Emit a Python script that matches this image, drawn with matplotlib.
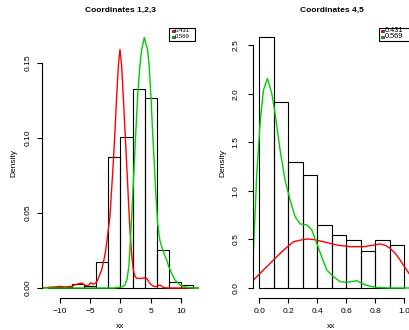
import numpy as np
import matplotlib
matplotlib.use("Agg")
import matplotlib.pyplot as plt
from matplotlib.patches import Rectangle

plt.rcParams['font.family'] = ['Liberation Sans', 'DejaVu Sans']

# ---------------- data ----------------
titles = ["Coordinates 1,2,3", "Coordinates 4,5"]
legend_labels = ["0.431", "0.569"]

# left panel histogram
left_edges = [-12, -10, -8, -6, -4, -2, 0, 2, 4, 6, 8, 10, 12]
left_heights = [0.0007, 0.0005, 0.0029, 0.0011, 0.017, 0.0875, 0.1009,
                0.1325, 0.1264, 0.0253, 0.0038, 0.002]
left_xticks = [-10, -5, 0, 5, 10]
left_yticks = [0.00, 0.05, 0.10, 0.15]
left_ytick_labels = ["0.00", "0.05", "0.10", "0.15"]

left_red_x = [-13.5, -12.1, -11.5, -10.8, -10.0, -9.2, -8.07, -7.24, -6.4, -5.87,
              -5.3, -4.93, -4.5, -4.05, -3.8, -3.11, -2.56, -2.28, -1.74, -1.19,
              -0.9, -0.63, -0.35, -0.08, 0.2, 0.47, 0.75, 1.02, 1.3, 1.57, 1.85,
              2.12, 2.4, 2.67, 3.5, 4.0, 4.33, 4.88, 5.3, 5.7, 6.1, 6.53, 6.8,
              7.07, 7.5, 8.0, 13.5]
left_red_y = [0.0, 0.0003, 0.0006, 0.0007, 0.0011, 0.0007, 0.0011, 0.0025, 0.0033, 0.0018,
              0.0015, 0.0035, 0.0025, 0.0035, 0.005, 0.012, 0.022, 0.0298, 0.0476, 0.083,
              0.105, 0.1276, 0.148, 0.159, 0.148, 0.1276, 0.105, 0.083, 0.06, 0.0387, 0.022,
              0.012, 0.008, 0.0064, 0.0064, 0.0068, 0.0064, 0.003, 0.0015, 0.0009, 0.0012,
              0.002, 0.0012, 0.0004, 0.0001, 0.0, 0.0]

left_green_x = [-13.5, -1.0, 0.3, 0.74, 1.1, 1.4, 1.74, 2.0, 2.29, 2.55, 2.84, 3.2,
                3.5, 3.94, 4.49, 4.75, 5.04, 5.3, 5.59, 5.85, 6.15, 6.5, 6.81, 7.2,
                7.64, 8.0, 8.46, 9.0, 9.83, 10.9, 11.5, 12.0, 13.5]
left_green_y = [0.0, 0.0, 0.0008, 0.002, 0.006, 0.015, 0.0387, 0.06, 0.083, 0.105,
                0.1276, 0.148, 0.1587, 0.167, 0.1587, 0.148, 0.1276, 0.105, 0.083,
                0.062, 0.043, 0.032, 0.0276, 0.023, 0.0187, 0.014, 0.0098, 0.0053,
                0.002, 0.0005, 0.0002, 0.0, 0.0]

# right panel histogram
right_edges = [0.0, 0.1, 0.2, 0.3, 0.4, 0.5, 0.6, 0.7, 0.8, 0.9, 1.0]
right_heights = [2.59, 1.92, 1.296, 1.165, 0.646, 0.546, 0.495, 0.378, 0.495, 0.446]
right_xticks = [0.0, 0.2, 0.4, 0.6, 0.8, 1.0]
right_xtick_labels = ["0.0", "0.2", "0.4", "0.6", "0.8", "1.0"]
right_yticks = [0.0, 0.5, 1.0, 1.5, 2.0, 2.5]
right_ytick_labels = ["0.0", "0.5", "1.0", "1.5", "2.0", "2.5"]

right_red_x = [-0.05, -0.039, 0.03, 0.099, 0.168, 0.237, 0.306, 0.34, 0.375, 0.443,
               0.536, 0.628, 0.72, 0.78, 0.834, 0.87, 0.903, 0.94, 0.972, 1.041, 1.05]
right_red_y = [0.065, 0.082, 0.186, 0.289, 0.39, 0.477, 0.50, 0.505, 0.50, 0.477,
               0.443, 0.426, 0.426, 0.44, 0.454, 0.44, 0.41, 0.355, 0.289, 0.134, 0.115]

right_green_x = [-0.045, -0.039, -0.016, 0.007, 0.03, 0.057, 0.088, 0.11, 0.145, 0.179,
                 0.214, 0.248, 0.283, 0.31, 0.329, 0.363, 0.398, 0.432, 0.467, 0.513,
                 0.559, 0.605, 0.674, 0.731, 0.8, 0.9, 1.05]
right_green_y = [0.3, 0.39, 1.18, 1.70, 2.04, 2.16, 2.0, 1.80, 1.42, 1.11,
                 0.907, 0.735, 0.66, 0.655, 0.65, 0.60, 0.46, 0.32, 0.186, 0.117,
                 0.065, 0.058, 0.075, 0.031, 0.007, 0.0, 0.0]

RED = "#FF0000"
GREEN = "#00CD00"

W, H = 410, 330
fig = plt.figure(figsize=(W / 100, H / 100), dpi=100)


def fx(px):
    return px / W


def fy(py):
    return 1 - py / H


def setup_axes(ax, xbounds, ybounds, ylab_pad):
    for s in ("top", "right"):
        ax.spines[s].set_visible(False)
    ax.spines["left"].set_bounds(*ybounds)
    ax.spines["bottom"].set_bounds(*xbounds)
    for s in ("left", "bottom"):
        ax.spines[s].set_linewidth(0.8)
    ax.tick_params(direction="out", length=3.3, width=0.8, labelsize=6)
    ax.tick_params(axis="x", pad=4.2)
    ax.tick_params(axis="y", pad=ylab_pad)
    for lab in ax.get_yticklabels():
        lab.set_rotation(90)
        lab.set_va("center")


def draw_legend(x0, y0, x1, y1, rows_y, sq_x, txt_x, fs):
    fig.add_artist(Rectangle((fx(x0), fy(y1)), fx(x1) - fx(x0), fy(y0) - fy(y1),
                             transform=fig.transFigure, facecolor="white",
                             edgecolor="black", linewidth=0.8, zorder=5))
    for lab, col, ry in zip(legend_labels, [RED, GREEN], rows_y):
        s = 2.4
        fig.add_artist(Rectangle((fx(sq_x - s / 2), fy(ry + s / 2)), s / W, s / H,
                                 transform=fig.transFigure, facecolor=col,
                                 edgecolor="black", linewidth=0.4, zorder=6))
        fig.text(fx(txt_x), fy(ry), lab, fontsize=fs, va="center", ha="left",
                 zorder=7)


# ---------------- left panel ----------------
ax1 = fig.add_axes([fx(42), fy(298), fx(198.9) - fx(42), fy(27.6) - fy(298)])
ax1.bar(left_edges[:-1], left_heights, width=np.diff(left_edges), align="edge",
        fill=False, edgecolor="black", linewidth=0.8)
ax1.plot(left_red_x, left_red_y, color=RED, linewidth=1.0)
ax1.plot(left_green_x, left_green_y, color=GREEN, linewidth=1.0)
ax1.set_xlim(-12.96, 12.96)
ax1.set_ylim(-0.00667, 0.1736)
ax1.set_xticks(left_xticks)
ax1.set_xticklabels([str(v) if v >= 0 else "\u2212" + str(-v) for v in left_xticks])
ax1.set_yticks(left_yticks)
ax1.set_yticklabels(left_ytick_labels)
setup_axes(ax1, (-10, 10), (0, 0.15), 4.0)

# ---------------- right panel ----------------
ax2 = fig.add_axes([fx(253.3), fy(298), fx(409.9) - fx(253.3), fy(27.6) - fy(298)])
ax2.bar(right_edges[:-1], right_heights, width=np.diff(right_edges), align="edge",
        fill=False, edgecolor="black", linewidth=0.8)
ax2.plot(right_red_x, right_red_y, color=RED, linewidth=1.0)
ax2.plot(right_green_x, right_green_y, color=GREEN, linewidth=1.0)
ax2.set_xlim(-0.04, 1.04)
ax2.set_ylim(-0.103, 2.684)
ax2.set_xticks(right_xticks)
ax2.set_xticklabels(right_xtick_labels)
ax2.set_yticks(right_yticks)
ax2.set_yticklabels(right_ytick_labels)
setup_axes(ax2, (0, 1), (0, 2.5), 6.5)

# titles / labels
fig.text(fx(120.5), fy(10), titles[0], fontsize=6, fontweight="bold", ha="center", va="center")
fig.text(fx(331.5), fy(10), titles[1], fontsize=6, fontweight="bold", ha="center", va="center")
fig.text(fx(13.5), fy(163), "Density", fontsize=6, rotation=90, ha="center", va="center")
fig.text(fx(223), fy(163), "Density", fontsize=6, rotation=90, ha="center", va="center")
fig.text(fx(120.5), fy(329.5), "xx", fontsize=6, ha="center", va="bottom")
fig.text(fx(331.5), fy(329.5), "xx", fontsize=6, ha="center", va="bottom")

# legends
draw_legend(169.3, 27.5, 195, 40.5, [31.0, 36.8], 173.3, 175.2, 4.3)
draw_legend(379, 27.5, 413, 40.5, [30.8, 36.8], 382.7, 385.2, 5.3)

fig.savefig("out.png", dpi=100)
